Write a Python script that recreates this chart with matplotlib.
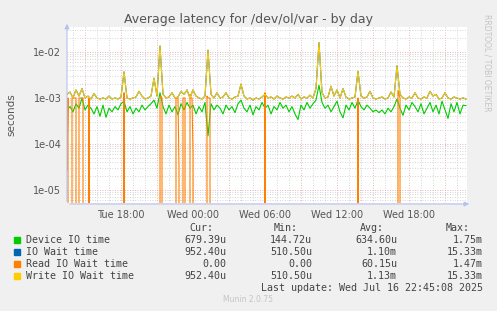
import numpy as np
import matplotlib
matplotlib.use("Agg")
import matplotlib.pyplot as plt
import matplotlib.dates as mdates
from datetime import datetime, timedelta

# time axis: Tue Jul 15 13:30 -> Wed Jul 16 22:45
start = datetime(2025, 7, 15, 13, 30)

# Device IO time, 15 min steps (seconds)
device_io = [
    5.5e-4, 6.5e-4, 5.0e-4, 7.5e-4, 6.0e-4, 1.0e-3, 5.5e-4, 7.0e-4, 6.0e-4, 4.5e-4,
    6.5e-4, 4.0e-4, 7.0e-4, 3.8e-4, 6.0e-4, 5.0e-4, 6.5e-4, 5.5e-4, 7.5e-4, 8.5e-4,
    5.0e-4, 6.5e-4, 4.5e-4, 6.0e-4, 5.0e-4, 7.0e-4, 5.5e-4, 6.5e-4, 7.5e-4, 9.0e-4,
    6.0e-4, 1.3e-3, 6.5e-4, 4.5e-4, 7.0e-4, 5.0e-4, 6.5e-4, 4.3e-4, 7.5e-4, 5.5e-4,
    8.0e-4, 6.0e-4, 7.0e-4, 4.5e-4, 6.5e-4, 5.0e-4, 8.0e-4, 1.5e-4, 7.5e-4, 5.5e-4,
    7.0e-4, 6.0e-4, 4.5e-4, 7.0e-4, 5.5e-4, 6.5e-4, 4.8e-4, 7.5e-4, 9.0e-4, 6.0e-4,
    5.0e-4, 7.0e-4, 4.3e-4, 6.5e-4, 5.5e-4, 8.0e-4, 6.0e-4, 7.0e-4, 4.5e-4, 6.5e-4,
    5.5e-4, 8.0e-4, 6.0e-4, 7.0e-4, 5.0e-4, 6.5e-4, 4.5e-4, 3.4e-4, 7.0e-4, 5.5e-4,
    8.0e-4, 6.0e-4, 7.5e-4, 9.0e-4, 1.9e-3, 8.0e-4, 6.0e-4, 7.0e-4, 5.0e-4, 6.5e-4,
    8.5e-4, 5.0e-4, 3.7e-4, 7.0e-4, 5.5e-4, 8.0e-4, 6.0e-4, 9.0e-4, 6.5e-4, 5.5e-4,
    7.0e-4, 6.0e-4, 5.0e-4, 5.5e-4, 4.8e-4, 5.5e-4, 4.5e-4, 6.0e-4, 5.0e-4, 6.5e-4,
    9.5e-4, 6.0e-4, 4.2e-4, 7.0e-4, 5.5e-4, 8.0e-4, 6.5e-4, 5.0e-4, 7.5e-4, 4.5e-4,
    6.0e-4, 8.0e-4, 5.0e-4, 7.0e-4, 4.5e-4, 8.5e-4, 5.5e-4, 3.6e-4, 7.5e-4, 5.0e-4,
    8.0e-4, 4.5e-4, 7.0e-4, 6.8e-4,
]

# Write IO Wait time, 15 min steps
write_wait = [
    1.2e-3, 1.35e-3, 1.0e-3, 1.5e-3, 1.1e-3, 1.6e-3, 1.0e-3, 1.1e-3, 0.95e-3, 1.25e-3,
    1.0e-3, 0.95e-3, 1.0e-3, 0.95e-3, 1.1e-3, 0.95e-3, 1.0e-3, 0.95e-3, 1.05e-3, 3.7e-3,
    1.0e-3, 0.95e-3, 1.0e-3, 1.05e-3, 1.4e-3, 1.1e-3, 0.95e-3, 1.0e-3, 1.1e-3, 2.7e-3,
    1.1e-3, 1.35e-2, 1.2e-3, 1.0e-3, 1.05e-3, 1.3e-3, 1.0e-3, 1.05e-3, 1.4e-3, 1.2e-3,
    1.5e-3, 1.0e-3, 1.5e-3, 1.1e-3, 1.0e-3, 0.95e-3, 1.1e-3, 1.1e-2, 1.2e-3, 1.0e-3,
    1.3e-3, 1.0e-3, 1.05e-3, 1.3e-3, 1.0e-3, 0.95e-3, 1.05e-3, 1.1e-3, 2.0e-3, 1.1e-3,
    0.95e-3, 1.0e-3, 0.9e-3, 1.0e-3, 0.95e-3, 1.05e-3, 1.2e-3, 1.0e-3, 1.05e-3, 0.95e-3,
    1.1e-3, 1.0e-3, 0.95e-3, 1.05e-3, 1.0e-3, 1.1e-3, 1.0e-3, 1.2e-3, 0.95e-3, 1.05e-3,
    1.0e-3, 1.15e-3, 1.0e-3, 1.6e-3, 1.6e-2, 1.3e-3, 1.0e-3, 1.05e-3, 1.8e-3, 1.1e-3,
    1.5e-3, 1.0e-3, 1.6e-3, 1.05e-3, 0.95e-3, 1.0e-3, 1.05e-3, 3.8e-3, 1.1e-3, 1.0e-3,
    1.05e-3, 1.4e-3, 1.0e-3, 0.95e-3, 1.0e-3, 1.05e-3, 0.95e-3, 1.0e-3, 1.35e-3, 1.05e-3,
    5.0e-3, 1.2e-3, 1.0e-3, 0.95e-3, 1.05e-3, 1.0e-3, 1.3e-3, 1.0e-3, 0.95e-3, 1.05e-3,
    1.0e-3, 1.4e-3, 1.1e-3, 1.2e-3, 0.95e-3, 1.0e-3, 1.3e-3, 1.0e-3, 0.95e-3, 1.05e-3,
    1.0e-3, 0.95e-3, 1.0e-3, 0.95e-3,
]

# IO Wait time is the same as write wait here (reads almost always zero)
io_wait = list(write_wait)

# Read IO Wait time: 5 min steps, zero except these samples
read_idx = [0, 1, 5, 6, 7, 8, 9, 12, 13, 14, 15, 16, 22, 57, 93, 94, 95,
            109, 110, 111, 112, 116, 117, 118, 123, 124, 125, 126,
            140, 141, 142, 143, 198, 291, 331, 332, 333]
read_vals = [2.7e-5, 1.0e-3, 1.0e-3, 1.0e-3, 1.0e-3, 1.0e-3, 1.0e-3, 1.0e-3, 1.0e-3,
             1.0e-3, 1.0e-3, 1.0e-3, 1.0e-3, 1.3e-3, 1.0e-3, 1.1e-3, 1.0e-3,
             1.0e-3, 1.0e-3, 1.0e-3, 3.0e-5, 1.0e-3, 1.0e-3, 1.0e-3, 1.2e-3, 1.0e-3,
             1.0e-3, 6.5e-5, 1.1e-3, 1.0e-3, 1.0e-3, 1.0e-3, 1.3e-3, 1.0e-3,
             1.47e-3, 1.2e-3, 1.0e-3]

t15 = [start + timedelta(minutes=15 * i) for i in range(len(device_io))]
t5 = [start + timedelta(minutes=5 * i) for i in range(400)]
read_wait = np.zeros(400)
read_wait[read_idx] = read_vals

labels = ["Device IO time", "IO Wait time", "Read IO Wait time", "Write IO Wait time"]
colors = ["#00CC00", "#0066B3", "#FF8000", "#FFCC00"]
cur = ["679.39u", "952.40u", "0.00", "952.40u"]
mins = ["144.72u", "510.50u", "0.00", "510.50u"]
avgs = ["634.60u", "1.10m", "60.15u", "1.13m"]
maxs = ["1.75m", "15.33m", "1.47m", "15.33m"]

W, H = 497, 311
fig = plt.figure(figsize=(W / 100, H / 100), dpi=100, facecolor="#F0F0F0")
ax = fig.add_axes([67 / W, 1 - 203 / H, 400 / W, 176 / H])
ax.set_facecolor("white")

lw = 0.8
ax.plot(t15, device_io, color=colors[0], lw=lw)
ax.plot(t15, io_wait, color=colors[1], lw=lw)
ax.plot(t5, read_wait, color=colors[2], lw=lw)
ax.plot(t15, write_wait, color=colors[3], lw=lw)

ax.set_yscale("log")
ax.set_ylim(5.2e-6, 3.5e-2)
ax.set_xlim(start, start + timedelta(hours=33, minutes=20))

ax.yaxis.set_major_locator(matplotlib.ticker.LogLocator(base=10, numticks=10))
ax.yaxis.set_minor_locator(matplotlib.ticker.LogLocator(base=10, subs=np.arange(2, 10), numticks=10))
ax.yaxis.set_major_formatter(matplotlib.ticker.FuncFormatter(lambda v, p: "%.0e" % v))
ax.yaxis.set_minor_formatter(matplotlib.ticker.NullFormatter())

ax.xaxis.set_major_locator(mdates.HourLocator(byhour=[0, 6, 12, 18]))
ax.xaxis.set_minor_locator(mdates.HourLocator())
ax.xaxis.set_major_formatter(mdates.DateFormatter("%a %H:%M"))

# grid: hourly gray, 3-hourly red, decades red
for h in range(14, 47):
    tt = start + timedelta(minutes=30) + timedelta(hours=h - 14)
    c = "#e2a0a0" if tt.hour % 3 == 0 else "#c8c8c8"
    ax.axvline(tt, color=c, lw=0.6, ls=(0, (1, 2)), zorder=0)
for v in [2e-5, 3e-5, 4e-5, 5e-5, 6e-5, 7e-5, 8e-5, 9e-5] + \
         [k * 1e-4 for k in range(2, 10)] + [k * 1e-3 for k in range(2, 10)] + \
         [k * 1e-2 for k in range(2, 4)] + [6e-6, 7e-6, 8e-6, 9e-6]:
    ax.axhline(v, color="#c8c8c8", lw=0.6, ls=(0, (1, 2)), zorder=0)
for v in [1e-5, 1e-4, 1e-3, 1e-2]:
    ax.axhline(v, color="#e2a0a0", lw=0.6, ls=(0, (1, 2)), zorder=0)

for s in ax.spines.values():
    s.set_visible(False)
ax.tick_params(axis="both", which="both", length=0, labelsize=7, labelcolor="#555555")
ax.tick_params(axis="x", pad=5)
ax.tick_params(axis="y", pad=4)

# axis lines with arrows
fig.add_artist(matplotlib.patches.FancyArrowPatch((67 / W, 1 - 204 / H), (472 / W, 1 - 204 / H),
               transform=fig.transFigure, arrowstyle="-|>", mutation_scale=7,
               color="#b8c0f0", lw=0.8))
fig.add_artist(matplotlib.patches.FancyArrowPatch((67 / W, 1 - 204 / H), (67 / W, 1 - 21 / H),
               transform=fig.transFigure, arrowstyle="-|>", mutation_scale=7,
               color="#b8c0f0", lw=0.8))

def fx(x):
    return x / W

def fy(y):
    return 1 - y / H

fig.text(fx(248), fy(19), "Average latency for /dev/ol/var - by day", ha="center", va="center",
         fontsize=9, color="#555555")
fig.text(fx(11), fy(115), "seconds", rotation=90, ha="center", va="center", fontsize=7.5, color="#555555")
fig.text(fx(487), fy(14), "RRDTOOL / TOBI OETIKER", rotation=270, ha="center", va="top",
         fontsize=5.5, color="#c4c4c4")

mono = dict(family="DejaVu Sans Mono", fontsize=7.2, color="#444444", va="center")
for x, t in zip([213, 298, 384, 470], ["Cur:", "Min:", "Avg:", "Max:"]):
    fig.text(fx(x), fy(228), t, ha="right", **mono)
for i, lab in enumerate(labels):
    y = 240 + 12 * i
    fig.add_artist(matplotlib.patches.Rectangle((fx(14), fy(y + 3)), 6 / W, 6 / H,
                   transform=fig.transFigure, color=colors[i]))
    fig.text(fx(26), fy(y), lab, ha="left", **mono)
    for x, col in zip([226, 312, 397, 483], [cur, mins, avgs, maxs]):
        fig.text(fx(x), fy(y), col[i], ha="right", **mono)
fig.text(fx(483), fy(288), "Last update: Wed Jul 16 22:45:08 2025", ha="right", **mono)
fig.text(fx(248), fy(299), "Munin 2.0.75", ha="center", va="center", fontsize=5.5, color="#c4c4c4")

fig.savefig("out.png", dpi=100, facecolor=fig.get_facecolor())
